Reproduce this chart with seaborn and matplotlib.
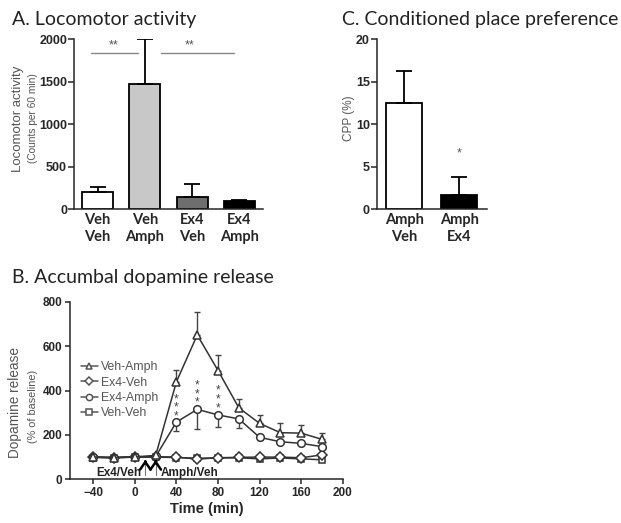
import numpy as np
import matplotlib
matplotlib.use("Agg")
import matplotlib.pyplot as plt
import seaborn as sns

# ---------------- data ----------------
loco_labels = ["Veh\nVeh", "Veh\nAmph", "Ex4\nVeh", "Ex4\nAmph"]
loco_mean = [200, 1470, 150, 92]
loco_sem = [62, 530, 145, 14]
loco_colors = ["#ffffff", "#c8c8c8", "#6e6e6e", "#000000"]

cpp_labels = ["Amph\nVeh", "Amph\nEx4"]
cpp_mean = [12.5, 1.65]
cpp_sem = [3.75, 2.15]
cpp_colors = ["#ffffff", "#000000"]

times = [-40, -20, 0, 20, 40, 60, 80, 100, 120, 140, 160, 180]
veh_amph = [100, 98, 100, 108, 440, 650, 490, 322, 252, 210, 208, 180]
veh_amph_err = [0, 0, 0, 0, 52, 102, 70, 40, 36, 42, 36, 27]
ex4_veh = [100, 98, 100, 102, 100, 91, 97, 99, 100, 100, 97, 110]
ex4_amph = [100, 98, 102, 103, 258, 315, 290, 272, 189, 169, 162, 147]
ex4_amph_err = [0, 0, 0, 0, 40, 88, 55, 40, 12, 6, 6, 6]
veh_veh = [98, 97, 100, 100, 98, 95, 96, 97, 92, 96, 92, 88]

# significance stars (x position, y of the stack centre)
star_x = [40, 60, 80]
star_y = [322, 384, 360]

# ---------------- style ----------------
sns.set_style("ticks")
plt.rcParams["font.family"] = ["Liberation Sans", "DejaVu Sans"]
plt.rcParams["axes.linewidth"] = 1.1

W, H = 621, 523
fig = plt.figure(figsize=(W / 100, H / 100), dpi=100)


def ax_rect(left, top, right, bottom):
    return [left / W, 1 - bottom / H, (right - left) / W, (bottom - top) / H]


GRAY = "#555555"
title_font = dict(family=["Lato", "DejaVu Sans"], fontsize=14, color="#222222")

# ---------------- Panel A ----------------
axA = fig.add_axes(ax_rect(74, 39, 263, 209.3))
sns.barplot(x=loco_labels, y=loco_mean, hue=loco_labels, palette=loco_colors,
            legend=False, edgecolor="black", linewidth=1.3, width=0.66,
            errorbar=None, ax=axA)
axA.errorbar(range(len(loco_mean)), loco_mean,
             yerr=[np.zeros(len(loco_sem)), loco_sem], fmt="none",
             ecolor="black", elinewidth=1.3, capsize=6, capthick=1.3, zorder=1)
axA.set_ylim(0, 2000)
axA.set_xlim(-0.5, 3.5)
axA.set_yticks([0, 500, 1000, 1500, 2000])
sns.despine(ax=axA)
axA.tick_params(axis="y", length=4, width=1.1, labelsize=9, pad=1)
axA.tick_params(axis="x", length=0, pad=3)
for lab in axA.get_yticklabels():
    lab.set_fontweight("bold")
for lab in axA.get_xticklabels():
    lab.set_fontweight("bold")
    lab.set_fontsize(10.5)
    lab.set_family(["Lato", "DejaVu Sans"])
axA.set_ylabel("")
# significance lines
axA.plot([-0.15, 0.85], [1835, 1835], color="#888888", lw=1)
axA.plot([1.34, 2.89], [1835, 1835], color="#888888", lw=1)
axA.text(0.33, 1850, "**", ha="center", va="bottom", fontsize=9, color=GRAY)
axA.text(1.95, 1850, "**", ha="center", va="bottom", fontsize=9, color=GRAY)
fig.text(18 / W, 1 - 119 / H, "Locomotor activity", rotation=90,
         ha="center", va="center", fontsize=9.5, color=GRAY)
fig.text(33 / W, 1 - 118 / H, "(Counts per 60 min)", rotation=90,
         ha="center", va="center", fontsize=7.3, color=GRAY)
fig.text(12 / W, 1 - 25 / H, "A. Locomotor activity", ha="left",
         va="baseline", **title_font)

# ---------------- Panel C ----------------
axC = fig.add_axes(ax_rect(376.7, 39, 486.7, 209.3))
sns.barplot(x=cpp_labels, y=cpp_mean, hue=cpp_labels, palette=cpp_colors,
            legend=False, edgecolor="black", linewidth=1.3, width=0.66,
            errorbar=None, ax=axC)
axC.errorbar(range(len(cpp_mean)), cpp_mean,
             yerr=[np.zeros(len(cpp_sem)), cpp_sem], fmt="none",
             ecolor="black", elinewidth=1.3, capsize=6, capthick=1.3, zorder=1)
axC.set_ylim(0, 20)
axC.set_xlim(-0.5, 1.5)
axC.set_yticks([0, 5, 10, 15, 20])
sns.despine(ax=axC)
axC.tick_params(axis="y", length=4, width=1.1, labelsize=9, pad=1)
axC.tick_params(axis="x", length=0, pad=3)
for lab in axC.get_yticklabels():
    lab.set_fontweight("bold")
for lab in axC.get_xticklabels():
    lab.set_fontweight("bold")
    lab.set_fontsize(10.5)
    lab.set_family(["Lato", "DejaVu Sans"])
axC.set_ylabel("")
axC.text(1, 6.6, "*", ha="center", va="center", fontsize=9, color=GRAY)
fig.text(348.5 / W, 1 - 118 / H, "CPP (%)", rotation=90,
         ha="center", va="center", fontsize=8.5, color=GRAY)
fig.text(341.7 / W, 1 - 25 / H, "C. Conditioned place preference",
         ha="left", va="baseline", **title_font)

# ---------------- Panel B ----------------
axB = fig.add_axes(ax_rect(70, 301.7, 342.7, 479.3))
LC = "#333333"
series = [
    ("Veh-Veh", veh_veh, "s", 5.0),
    ("Ex4-Veh", ex4_veh, "D", 5.0),
    ("Ex4-Amph", ex4_amph, "o", 5.5),
    ("Veh-Amph", veh_amph, "^", 6.0),
]
for name, vals, mk, ms in series:
    sns.lineplot(x=times, y=vals, ax=axB, color=LC, linewidth=1.1,
                 marker=mk, markersize=ms, markerfacecolor="white",
                 markeredgecolor=LC, markeredgewidth=1.1, label=name,
                 zorder=3)

te = np.array(times)
va_err = np.array(veh_amph_err)
mask = va_err > 0
axB.errorbar(te[mask], np.array(veh_amph)[mask],
             yerr=[np.zeros(mask.sum()), va_err[mask]], fmt="none",
             ecolor="#444444", elinewidth=1, capsize=2.5, capthick=1, zorder=2)
ea_err = np.array(ex4_amph_err)
mask2 = ea_err > 0
axB.errorbar(te[mask2], np.array(ex4_amph)[mask2],
             yerr=[ea_err[mask2], np.zeros(mask2.sum())], fmt="none",
             ecolor="#444444", elinewidth=1, capsize=2.5, capthick=1, zorder=2)

for sx, sy in zip(star_x, star_y):
    axB.text(sx, sy, "*\n*\n*", ha="center", va="center", fontsize=8.5,
             color="#444444", linespacing=0.62)

axB.set_xlim(-62.5, 200)
axB.set_ylim(0, 800)
axB.set_xticks([-40, 0, 40, 80, 120, 160, 200])
axB.set_yticks([0, 200, 400, 600, 800])
sns.despine(ax=axB)
axB.tick_params(axis="both", length=3.5, width=1.1, labelsize=8.5, pad=2)
for lab in axB.get_xticklabels() + axB.get_yticklabels():
    lab.set_fontweight("bold")
axB.set_ylabel("")
axB.set_xlabel("Time (min)", fontsize=10.5, fontweight="bold", labelpad=2)

# arrows for injections
for ax_x in [10, 20]:
    axB.plot([ax_x, ax_x], [18, 80], color="#777777", lw=0.8)
    axB.annotate("", xy=(ax_x, 88), xytext=(ax_x, 72),
                 arrowprops=dict(arrowstyle="->,head_length=0.55,head_width=0.38",
                                 color="black", lw=1.8, shrinkA=0, shrinkB=0))
axB.text(6, 28, "Ex4/Veh", ha="right", va="center", fontsize=8.5,
         fontweight="bold", color="#222222")
axB.text(25, 28, "Amph/Veh", ha="left", va="center", fontsize=8.5,
         fontweight="bold", color="#222222")

# legend in the order shown
hl, ll = axB.get_legend_handles_labels()
order = ["Veh-Amph", "Ex4-Veh", "Ex4-Amph", "Veh-Veh"]
hd = dict(zip(ll, hl))
leg = axB.legend([hd[k] for k in order], order, loc="upper left",
                 bbox_to_anchor=(0.04, 0.665), frameon=False, fontsize=8.8,
                 handlelength=1.4, handletextpad=0.25, labelspacing=0.28,
                 borderaxespad=0, borderpad=0)
for t in leg.get_texts():
    t.set_color(GRAY)
for h in leg.legend_handles:
    h.set_color("#555555")
    h.set_markeredgecolor("#555555")
    h.set_markersize(4.5)

fig.text(15 / W, 1 - 403 / H, "Dopamine release", rotation=90,
         ha="center", va="center", fontsize=9.8, color=GRAY)
fig.text(33 / W, 1 - 406 / H, "(% of baseline)", rotation=90,
         ha="center", va="center", fontsize=7.8, color=GRAY)
fig.text(12 / W, 1 - 283 / H, "B. Accumbal dopamine release", ha="left",
         va="baseline", **title_font)

fig.savefig("out.png", dpi=100)
